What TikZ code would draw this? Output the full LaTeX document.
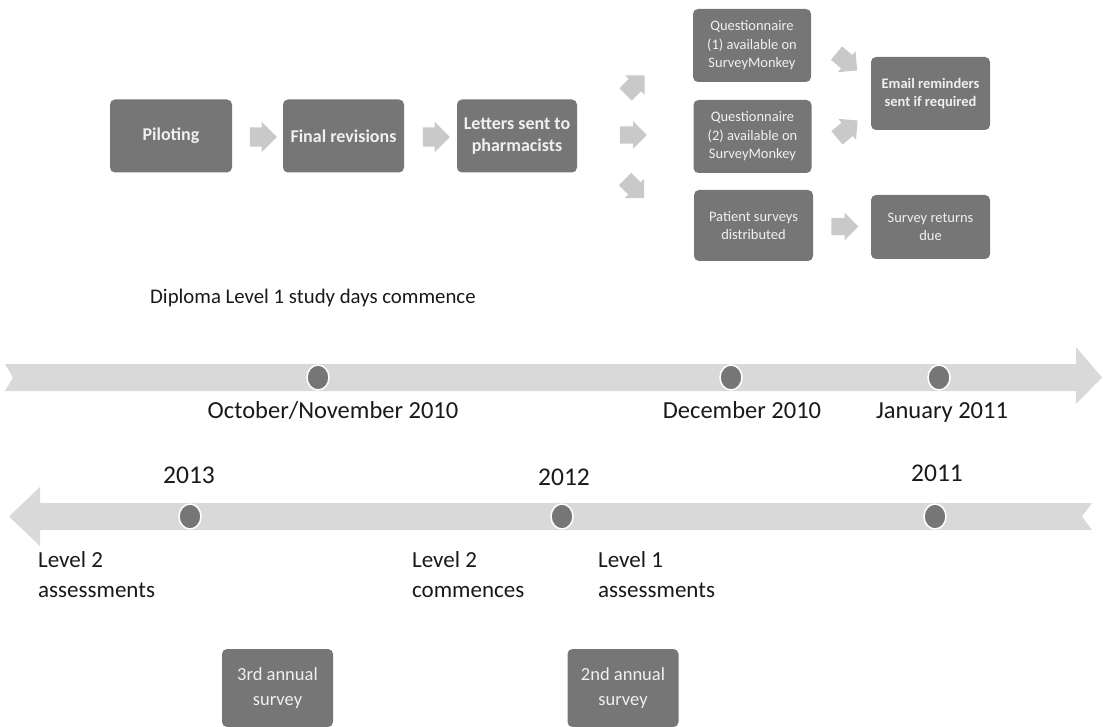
\documentclass[tikz,border=0pt]{standalone}
\usepackage{fontspec}
\setmainfont{Carlito}
\usetikzlibrary{shapes.arrows,shapes.geometric}
\definecolor{boxgray}{HTML}{767676}
\definecolor{arrowgray}{HTML}{C9C9C9}
\definecolor{linegray}{HTML}{D9D9D9}
\definecolor{boxtext}{HTML}{F0F0F0}
\tikzset{
	stage/.style={fill=boxgray, rounded corners=5pt, text=boxtext, align=center, inner sep=0pt},
	bigtext/.style={font=\fontsize{18}{22}\selectfont\bfseries},
	smalltext/.style={font=\fontsize{14.5}{18.5}\selectfont},
	surveytext/.style={font=\fontsize{18.5}{25}\selectfont},
	blockarrow/.style={single arrow, fill=arrowgray, inner xsep=0pt, inner ysep=9.5pt, minimum height=27pt, single arrow head extend=5.5pt},
	fanarrow/.style={blockarrow, inner ysep=8.5pt, single arrow head extend=5pt, minimum height=27pt},
	milestone/.style={ellipse, fill=boxgray, draw=white, line width=1.5pt, minimum width=22pt, minimum height=25pt, inner sep=0pt},
	datelabel/.style={font=\fontsize{24.5}{28}\selectfont, text=black!90, anchor=base},
	eventlabel/.style={font=\fontsize{23}{30}\selectfont, text=black!90, align=left, anchor=north west, inner sep=0pt},
}

\begin{document}
\begin{tikzpicture}[x=1pt, y=-1pt]
			\useasboundingbox (0,0) rectangle (1103,727);
			% process boxes
			\node[stage, bigtext, minimum width=122pt, minimum height=73pt] (pilot) at (171,136) {Piloting};
			\node[stage, bigtext, minimum width=121pt, minimum height=73pt] (final) at (343.5,136) {Final revisions};
			\node[stage, bigtext, minimum width=120pt, minimum height=73pt] (letters) at (517,136) {Letters sent to\\pharmacists};
			\node[stage, smalltext, minimum width=118pt, minimum height=73pt] (quest1) at (752,45.5) {Questionnaire\\(1) available on\\SurveyMonkey};
			\node[stage, smalltext, minimum width=118pt, minimum height=73pt] (quest2) at (752.5,136.5) {Questionnaire\\(2) available on\\SurveyMonkey};
			\node[stage, smalltext, minimum width=119pt, minimum height=71pt] (patient) at (753.5,225.5) {Patient surveys\\distributed};
			\node[stage, font=\fontsize{14.5}{18.5}\selectfont\bfseries, minimum width=119pt, minimum height=73pt] (email) at (930.5,93.5) {Email reminders\\sent if required};
			\node[stage, smalltext, minimum width=119pt, minimum height=64pt] (returns) at (930.5,227) {Survey returns\\due};
			% block arrows
			\node[blockarrow] (a1) at (258.5,137) {};
			\node[blockarrow] (a2) at (431.5,137) {};
			\node[fanarrow, rotate=45] (a3) at (632,88) {};
			\node[fanarrow] (a4) at (629,135) {};
			\node[fanarrow, rotate=-45] (a5) at (631.5,185.5) {};
			\node[fanarrow, rotate=-40] (a6) at (843.5,59) {};
			\node[fanarrow, rotate=40] (a7) at (844,132) {};
			\node[fanarrow] (a8) at (840.5,226.5) {};
			\node[font=\fontsize{20.8}{24}\selectfont, text=black!90, anchor=west, inner sep=0pt] (diploma) at (150,298) {Diploma Level 1 study days commence};
			% upper timeline
			\fill[linegray] (5,364) -- (1076,364) -- (1076,347) -- (1102,377.5) -- (1076,404) -- (1076,391) -- (5,391) -- (13,377.5) -- cycle;
			\node[milestone] (oct) at (318,377.5) {};
			\node[milestone] (dec) at (731,377.5) {};
			\node[milestone] (jan) at (939,377.5) {};
			\node[datelabel] (octlab) at (333,418) {October/November 2010};
			\node[datelabel] (declab) at (742,418) {December 2010};
			\node[datelabel] (janlab) at (942,418) {January 2011};
			% lower timeline
			\fill[linegray] (1092,503) -- (40,503) -- (40,487) -- (9,516.5) -- (40,546) -- (40,530) -- (1092,530) -- (1082,516.5) -- cycle;
			\node[milestone] (y13) at (190,516.5) {};
			\node[milestone] (y12) at (562,516.5) {};
			\node[milestone] (y11) at (935,516.5) {};
			\node[datelabel, font=\fontsize{25.5}{28}\selectfont] (y13lab) at (189,483) {2013};
			\node[datelabel, font=\fontsize{25.5}{28}\selectfont] (y12lab) at (564,485) {2012};
			\node[datelabel, font=\fontsize{25.5}{28}\selectfont] (y11lab) at (937,481) {2011};
			\node[eventlabel] (lev2a) at (38,551) {Level 2\\assessments};
			\node[eventlabel] (lev2c) at (412,551) {Level 2\\commences};
			\node[eventlabel] (lev1a) at (598,551) {Level 1\\assessments};
			% annual surveys
			\node[stage, surveytext, minimum width=111pt, minimum height=78pt] (third) at (277.5,688) {3rd annual\\survey};
			\node[stage, surveytext, minimum width=111pt, minimum height=78pt] (second) at (623,688) {2nd annual\\survey};
\end{tikzpicture}
\end{document}
